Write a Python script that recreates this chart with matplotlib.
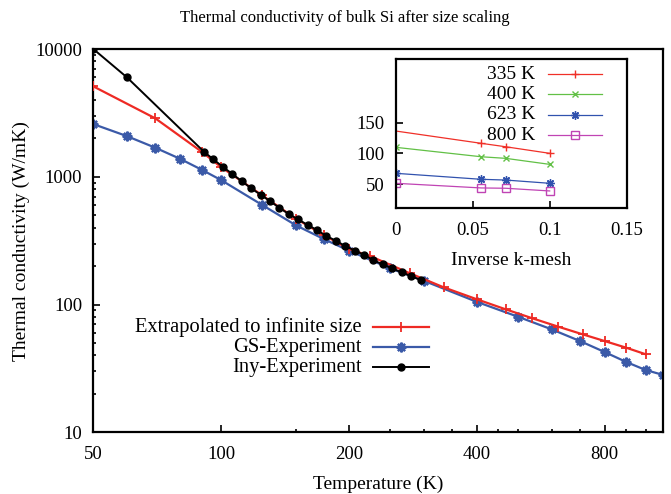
import numpy as np
import matplotlib
matplotlib.use('Agg')
import matplotlib.pyplot as plt
from matplotlib.lines import Line2D
from matplotlib.ticker import FixedLocator, FixedFormatter, NullFormatter

plt.rcParams['font.family'] = ['Liberation Serif', 'DejaVu Serif']
plt.rcParams['font.size'] = 14

# Extrapolated to infinite size
t_extrap = [50, 70, 90, 100, 125, 150, 175, 200, 224, 279, 335, 400, 468, 541, 623, 711, 800, 900, 1000]
k_extrap = [5100, 2864, 1570, 1190, 715, 470, 348, 272, 240, 175, 136, 110, 91.7, 78, 67, 58.4, 51.8, 45.9, 40.8]

# GS-Experiment
t_gs = [50, 60, 70, 80, 90, 100, 125, 150, 175, 200, 250, 300, 400, 500, 600, 700, 800, 900, 1000, 1100]
k_gs = [2584, 2080, 1687, 1383, 1135, 942, 601, 417, 324, 264, 192, 153.6, 105, 80.3, 64, 51.8, 42.5, 35.5, 30.7, 28.1]

# Iny-Experiment
t_iny = [50, 60, 91.1, 95.9, 100.9, 106.3, 112, 117.8, 124.2, 130.6, 137.1, 144.3, 151.8, 160, 168.2,
         176.6, 186.2, 196, 206.7, 217.5, 228, 240, 252.6, 266, 280, 295]
k_iny = [10000, 6000, 1570, 1368, 1197, 1050, 920, 811, 719, 642, 572, 511, 464, 419, 383,
         345, 316, 287, 264, 244, 223, 206, 192, 178.6, 167, 155.5]

# inset: conductivity vs inverse k-mesh
inv_mesh = [0, 1 / 18, 1 / 14, 1 / 10]
k_335 = [136.5, 116.4, 110.8, 100.1]
k_400 = [109.9, 94.5, 91.9, 82.1]
k_623 = [67.5, 57.7, 56.5, 51.2]
k_800 = [51.2, 43.6, 43.1, 38.7]

x_major = [50, 100, 200, 400, 800]
x_minor = [150, 250, 300, 350, 450, 500, 600, 700, 900, 1000]
y_major = [10, 100, 1000, 10000]

RED = '#ee2a24'
BLUE = '#3b5aa8'
ASTER = (8, 2, 0)


def gnuplot_key(ax, lines, x_text, x0, x1, y_top, dy, size=14):
    # gnuplot style key: label flush right, sample line to the right of it
    for i, ln in enumerate(lines):
        y = y_top - i * dy
        ax.text(x_text, y, ln.get_label(), transform=ax.transAxes, ha='right', va='center', fontsize=size)
        ax.add_line(Line2D([x0, x1], [y, y], transform=ax.transAxes, color=ln.get_color(),
                           lw=ln.get_linewidth(), clip_on=False))
        ax.add_line(Line2D([(x0 + x1) / 2], [y], transform=ax.transAxes, color=ln.get_color(),
                           marker=ln.get_marker(), ms=ln.get_markersize(), mew=ln.get_markeredgewidth(),
                           mfc=ln.get_markerfacecolor(), clip_on=False))


def style_axes(ax):
    ax.tick_params(which='both', direction='in', width=1.2, labelsize=13.5)
    ax.tick_params(which='major', length=5)
    ax.tick_params(which='minor', length=2.5)
    ax.tick_params(axis='x', pad=10)
    ax.tick_params(axis='y', pad=8)
    for s in ax.spines.values():
        s.set_linewidth(1.6)


fig = plt.figure(figsize=(6.71, 4.94), dpi=100)
ax = fig.add_axes([93.3 / 671, 1 - 432.3 / 494, 570 / 671, 383.3 / 494])

l_gs, = ax.plot(t_gs, k_gs, color=BLUE, lw=1.6, marker=ASTER, ms=7, mew=1.6, label='GS-Experiment', zorder=2)
l_ex, = ax.plot(t_extrap, k_extrap, color=RED, lw=1.6, marker='+', ms=7, mew=1.3,
                label='Extrapolated to infinite size', zorder=3)
l_iny, = ax.plot(t_iny, k_iny, color='black', lw=1.4, marker='o', ms=5, label='Iny-Experiment', zorder=4)

ax.set_xscale('log')
ax.set_yscale('log')
ax.set_xlim(50, 1100)
ax.set_ylim(10, 10000)
ax.xaxis.set_major_locator(FixedLocator(x_major))
ax.xaxis.set_major_formatter(FixedFormatter([str(v) for v in x_major]))
ax.xaxis.set_minor_locator(FixedLocator(x_minor))
ax.xaxis.set_minor_formatter(NullFormatter())
ax.yaxis.set_major_locator(FixedLocator(y_major))
ax.yaxis.set_major_formatter(FixedFormatter([str(v) for v in y_major]))
style_axes(ax)

ax.set_xlabel('Temperature (K)', labelpad=9)
ax.set_ylabel('Thermal conductivity (W/mK)', labelpad=4)
fig.text(0.514, 0.963, 'Thermal conductivity of bulk Si after size scaling', ha='center', va='center',
         fontsize=12)

gnuplot_key(ax, [l_ex, l_gs, l_iny], 0.4709, 0.4907, 0.5889, 0.2739, 0.0522, size=14.8)

# inset
ins = fig.add_axes([395.7 / 671, 1 - 208.3 / 494, 231 / 671, 149.3 / 494])
i1, = ins.plot(inv_mesh, k_335, color='#f03028', lw=0.9, marker='+', ms=6, mew=1, markevery=[1, 2, 3], label='335 K')
i2, = ins.plot(inv_mesh, k_400, color='#62c046', lw=0.9, marker='x', ms=5, mew=1, label='400 K')
i3, = ins.plot(inv_mesh, k_623, color='#3152ae', lw=0.9, marker=ASTER, ms=6, mew=1, label='623 K')
i4, = ins.plot(inv_mesh, k_800, color='#c044b4', lw=0.9, marker='s', ms=6, mew=1, mfc='none', label='800 K')
ins.set_xlim(0, 0.15)
ins.set_ylim(10.4, 254)
ins.set_xticks([0, 0.05, 0.1, 0.15])
ins.set_xticklabels(['0', '0.05', '0.1', '0.15'])
ins.set_yticks([50, 100, 150])
style_axes(ins)
ins.set_xlabel('Inverse k-mesh', labelpad=9)
gnuplot_key(ins, [i1, i2, i3, i4], 0.603, 0.658, 0.894, 0.8995, 0.1372)

fig.savefig('out.png', dpi=100)
